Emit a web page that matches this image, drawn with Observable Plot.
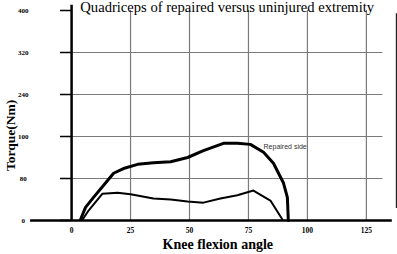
<!DOCTYPE html>
<html>
<head>
<meta charset="utf-8">
<script src="https://cdn.jsdelivr.net/npm/d3@7"></script>
<script src="https://cdn.jsdelivr.net/npm/@observablehq/plot@0.6"></script>
<style>
  html, body { margin: 0; padding: 0; background: #fff; }
</style>
</head>
<body>
<div id="chart"></div>
<script>
// Data
const title = "Quadriceps of repaired versus uninjured extremity";
const xLabel = "Knee flexion angle";
const yLabel = "Torque(Nm)";
const seriesLabel = "Repaired side";

const xTicks = [0, 25, 50, 75, 100, 125];
const yTicks = [0, 80, 160, 240, 320, 400];
const yTickLabels = ["0", "80", "100", "240", "320", "400"];

// Repaired side (upper, thick)
const repairedAngle = [3.8, 5.9, 9.3, 13.6, 17.8, 22.0, 28.0, 34.7, 42.0, 49.2, 55.9, 64.4, 70.3, 75.8, 81.4, 85.6, 89.8, 91.5, 91.9];
const repairedTorque = [2, 25, 44, 67, 90, 99, 107, 110, 112, 120, 133, 147, 147, 145, 130, 109, 72, 44, 0];

// Uninjured side (lower, thinner)
const uninjuredAngle = [4.7, 7.2, 13.1, 19.5, 25.0, 34.7, 42.0, 49.2, 55.9, 63.1, 70.3, 77.1, 84.3, 89.4];
const uninjuredTorque = [2, 19, 51, 53, 50, 42, 40, 36, 34, 42, 48, 57, 38, 2];

const repaired = repairedAngle.map((a, i) => ({angle: a, torque: repairedTorque[i]}));
const uninjured = uninjuredAngle.map((a, i) => ({angle: a, torque: uninjuredTorque[i]}));

const gridX = xTicks.slice(1);
const gridY = yTicks.slice(1, -1);

const chart = Plot.plot({
  width: 397,
  height: 254,
  marginLeft: 31,
  marginRight: 0,
  marginTop: 10,
  marginBottom: 34,
  style: {fontFamily: "'Liberation Serif', serif", background: "#fff", color: "#000"},
  x: {domain: [-17, 138.2], axis: null},
  y: {domain: [0, 400], axis: null},
  marks: [
    // grid
    Plot.ruleX(gridX, {y1: 0, y2: 400, stroke: "#7a7a7a", strokeWidth: 1.2}),
    Plot.ruleY(gridY, {x1: 0, x2: 132, stroke: "#7a7a7a", strokeWidth: 1.2}),
    // y tick marks
    Plot.ruleY(yTicks, {x1: -4.7, x2: 0, stroke: "#000", strokeWidth: 1.5}),
    // y axis line
    Plot.ruleX([0], {y1: 0, y2: 410, stroke: "#000", strokeWidth: 2.5}),
    // x axis line
    Plot.ruleY([0], {x1: -17.4, x2: 136, stroke: "#000", strokeWidth: 2.5}),
    // right border line
    Plot.ruleX([137.8], {y1: 23, y2: 394, stroke: "#222", strokeWidth: 1.5}),
    // curves
    Plot.line(uninjured, {x: "angle", y: "torque", stroke: "#000", strokeWidth: 2, strokeLinejoin: "round"}),
    Plot.line(repaired, {x: "angle", y: "torque", stroke: "#000", strokeWidth: 3, strokeLinejoin: "round"}),
    // series label
    Plot.text([seriesLabel], {x: 81.4, y: 141, text: d => d, textAnchor: "start", fontSize: 7, fontFamily: "'Liberation Sans', Arial, sans-serif", fill: "#333"}),
    // x tick labels
    Plot.text(xTicks, {x: d => d, y: 0, text: d => String(d), dy: 10, fontSize: 7.5, fontWeight: "bold", lineAnchor: "middle"}),
    // y tick labels
    Plot.text(yTicks, {x: -20.5, y: d => d, text: (d, i) => yTickLabels[i], fontSize: 7, fontWeight: "bold", textAnchor: "middle", lineAnchor: "middle"}),
    // axis titles
    Plot.text([xLabel], {x: 62, y: 0, text: d => d, dy: 24, fontSize: 14, fontWeight: "bold", lineAnchor: "middle"}),
    Plot.text([yLabel], {x: -25.8, y: 162, text: d => d, rotate: -90, fontSize: 13.5, fontWeight: "bold", lineAnchor: "middle"}),
    // title
    Plot.text([title], {x: 66, y: 400, text: d => d, dy: 1, fontSize: 14.6, lineAnchor: "bottom", fill: "#000"})
  ]
});
document.getElementById("chart").appendChild(chart);
</script>
</body>
</html>
